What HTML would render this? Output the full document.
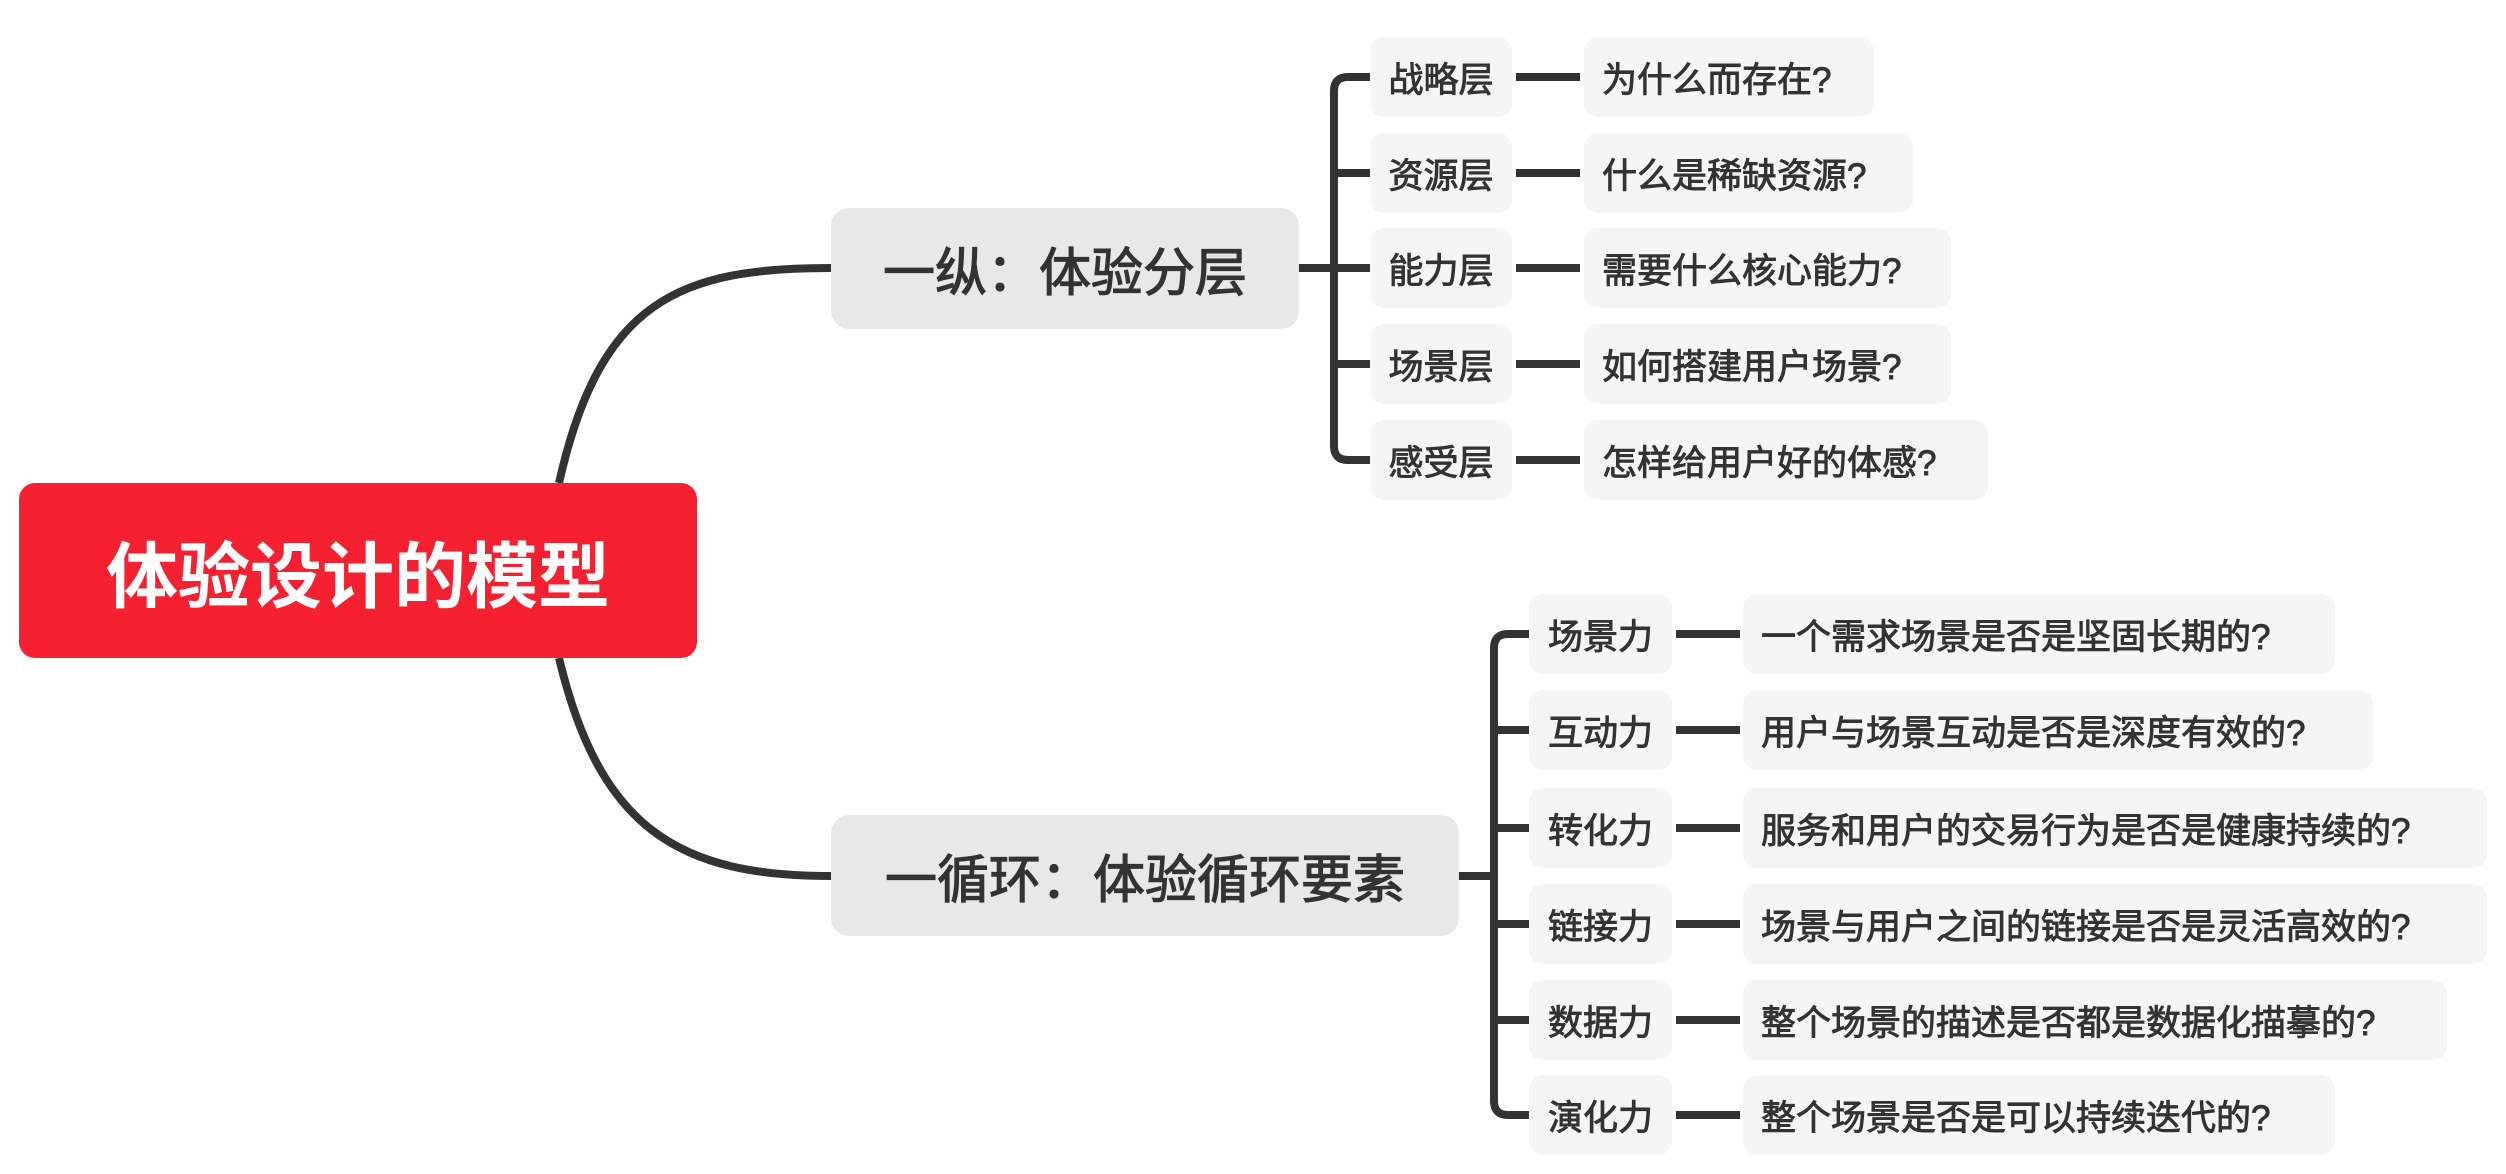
<!DOCTYPE html>
<html><head><meta charset="utf-8"><style>
body{margin:0;width:2506px;height:1174px;background:#fff;position:relative;overflow:hidden;font-family:"Liberation Sans","Noto Sans CJK SC",sans-serif;color:#333}
.b{position:absolute;display:flex;align-items:center;justify-content:center;border-radius:14px;background:#f6f5f5;font-size:35px;white-space:nowrap;-webkit-text-stroke:0.9px #333}
.l{justify-content:flex-start;padding-left:18px;box-sizing:border-box}
svg{position:absolute;left:0;top:0}
</style></head><body>
<svg width="2506" height="1174" fill="none" stroke="#333" stroke-width="8" stroke-linecap="butt">
<path d="M559 483 C600 300 680 268 831 268"/>
<path d="M559 658 C600 830 680 876 831 876"/>
<path d="M1299 268 H1334"/>
<path d="M1370 77 H1348 Q1334 77 1334 91 V446 Q1334 460 1348 460 H1370"/>
<path d="M1334 173 H1370 M1334 268 H1370 M1334 364 H1370"/>
<path d="M1516 77 H1580 M1516 173 H1580 M1516 268 H1580 M1516 364 H1580 M1516 460 H1580"/>
<path d="M1459 876 H1494"/>
<path d="M1529 634 H1508 Q1494 634 1494 648 V1101 Q1494 1115 1508 1115 H1529"/>
<path d="M1494 730 H1529 M1494 828 H1529 M1494 924 H1529 M1494 1020 H1529"/>
<path d="M1676 634 H1740 M1676 730 H1740 M1676 828 H1740 M1676 924 H1740 M1676 1020 H1740 M1676 1115 H1740"/>
</svg>
<div class="b" style="left:19px;top:483px;width:678px;height:175px;background:#f52130;color:#fff;font-size:72px;font-weight:bold;border-radius:16px;-webkit-text-stroke:0">体验设计的模型</div>
<div class="b" style="left:831px;top:208px;width:468px;height:121px;background:#e8e8e8;font-size:52px;border-radius:18px;-webkit-text-stroke:1.2px #333">一纵：体验分层</div>
<div class="b" style="left:831px;top:815px;width:628px;height:121px;background:#e8e8e8;font-size:52px;border-radius:18px;-webkit-text-stroke:1.2px #333">一循环：体验循环要素</div>

<div class="b" style="left:1370px;top:37px;width:142px;height:80px">战略层</div>
<div class="b" style="left:1370px;top:133px;width:142px;height:80px">资源层</div>
<div class="b" style="left:1370px;top:228px;width:142px;height:80px">能力层</div>
<div class="b" style="left:1370px;top:324px;width:142px;height:80px">场景层</div>
<div class="b" style="left:1370px;top:420px;width:142px;height:80px">感受层</div>
<div class="b l" style="left:1584px;top:37px;width:290px;height:80px">为什么而存在?</div>
<div class="b l" style="left:1584px;top:133px;width:329px;height:80px">什么是稀缺资源?</div>
<div class="b l" style="left:1584px;top:228px;width:367px;height:80px">需要什么核心能力?</div>
<div class="b l" style="left:1584px;top:324px;width:367px;height:80px">如何搭建用户场景?</div>
<div class="b l" style="left:1584px;top:420px;width:404px;height:80px">怎样给用户好的体感?</div>

<div class="b" style="left:1529px;top:594px;width:143px;height:80px">场景力</div>
<div class="b" style="left:1529px;top:690px;width:143px;height:80px">互动力</div>
<div class="b" style="left:1529px;top:788px;width:143px;height:80px">转化力</div>
<div class="b" style="left:1529px;top:884px;width:143px;height:80px">链接力</div>
<div class="b" style="left:1529px;top:980px;width:143px;height:80px">数据力</div>
<div class="b" style="left:1529px;top:1075px;width:143px;height:80px">演化力</div>
<div class="b l" style="left:1743px;top:594px;width:592px;height:80px">一个需求场景是否是坚固长期的?</div>
<div class="b l" style="left:1743px;top:690px;width:630px;height:80px">用户与场景互动是否是深度有效的?</div>
<div class="b l" style="left:1743px;top:788px;width:744px;height:80px">服务和用户的交易行为是否是健康持续的?</div>
<div class="b l" style="left:1743px;top:884px;width:744px;height:80px">场景与用户之间的链接是否是灵活高效的?</div>
<div class="b l" style="left:1743px;top:980px;width:704px;height:80px">整个场景的描述是否都是数据化描摹的?</div>
<div class="b l" style="left:1743px;top:1075px;width:592px;height:80px">整个场景是否是可以持续迭代的?</div>
</body></html>
